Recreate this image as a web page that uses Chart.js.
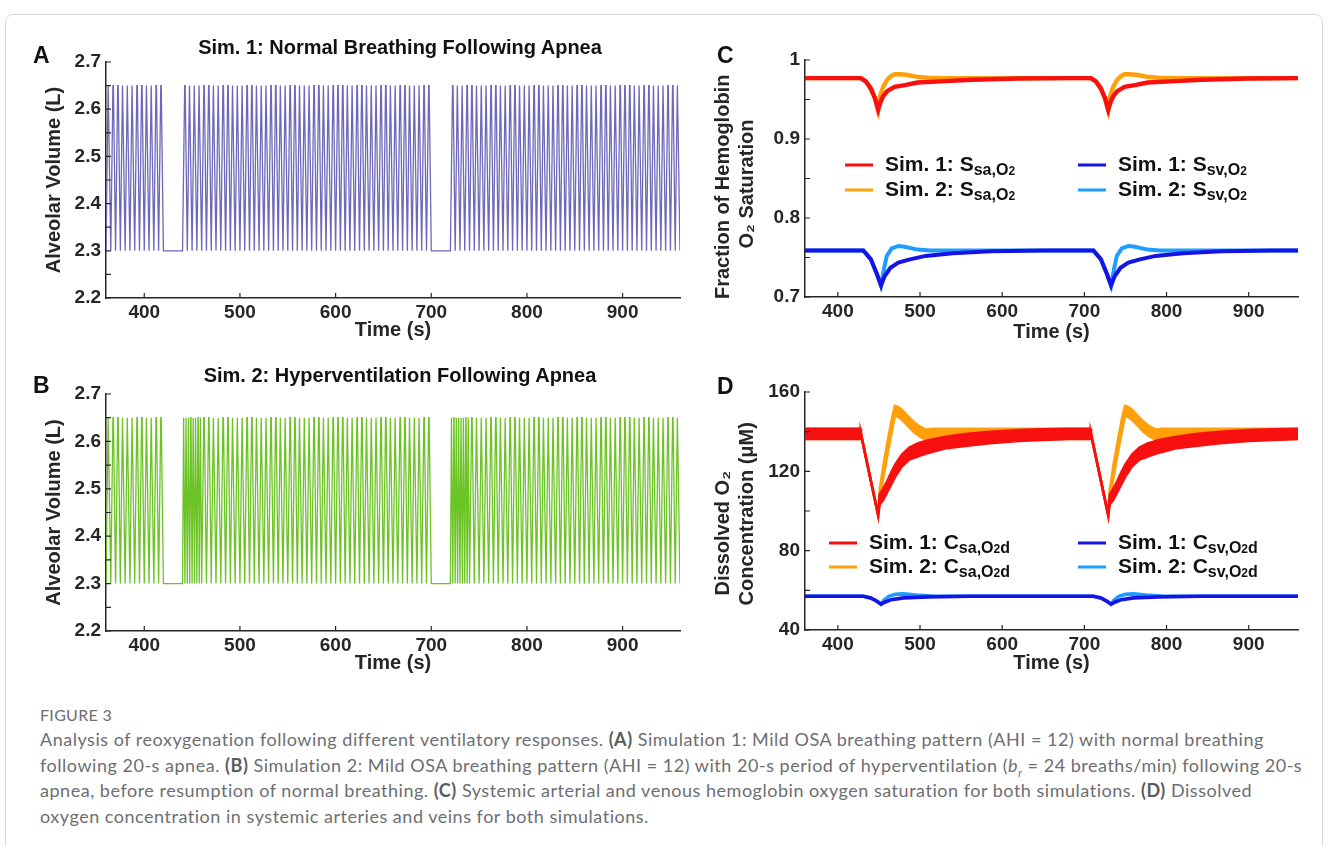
<!DOCTYPE html>
<html>
<head>
<meta charset="utf-8">
<script src="https://cdn.jsdelivr.net/npm/chart.js@4.4.1/dist/chart.umd.min.js"></script>
<style>
  body { margin: 0; background: #fff; }
  #page { position: relative; width: 1328px; height: 846px; overflow: hidden; background: #fff; }
  #card { position: absolute; left: 5px; top: 14px; width: 1316px; height: 900px; border: 1px solid #d8d8d8; border-radius: 8px; }
  canvas { position: absolute; }
  .title { position: absolute; left: 100px; width: 600px; text-align: center; color: #111;
           font: bold 20px/24px 'Liberation Sans', Arial, sans-serif; }
  .letter { position: absolute; color: #111; font: bold 23px/23px 'Liberation Sans', Arial, sans-serif; }
  .fig { position: absolute; left: 40px; top: 705px; color: #6d6e71; font: 16px/20px Lato, 'Open Sans', sans-serif; letter-spacing: 0.3px; }
  .caption { position: absolute; left: 40px; top: 727px; color: #6d6e71; white-space: nowrap;
             font: 18px/25.7px Lato, 'Open Sans', sans-serif; letter-spacing: 0.52px; }
  .caption b { color: #5a5b5e; }
  .caption sub { font-size: 11px; line-height: 0; }
</style>
</head>
<body>
<div id="page">
  <div id="card"></div>

  <canvas id="chartA" width="700" height="330" style="left:0;top:20px"></canvas>
  <canvas id="chartC" width="628" height="330" style="left:700px;top:20px"></canvas>
  <canvas id="chartB" width="700" height="330" style="left:0;top:350px"></canvas>
  <canvas id="chartD" width="628" height="330" style="left:700px;top:350px"></canvas>

  <div class="title" style="top:35px">Sim. 1: Normal Breathing Following Apnea</div>
  <div class="title" style="top:363px">Sim. 2: Hyperventilation Following Apnea</div>
  <div class="letter" style="left:33px;top:44px">A</div>
  <div class="letter" style="left:33px;top:374px">B</div>
  <div class="letter" style="left:717px;top:44px">C</div>
  <div class="letter" style="left:717px;top:375px">D</div>

  <div class="fig">FIGURE 3</div>
  <div class="caption">
    Analysis of reoxygenation following different ventilatory responses. <b>(A)</b> Simulation 1: Mild OSA breathing pattern (AHI = 12) with normal breathing<br>
    following 20-s apnea. <b>(B)</b> Simulation 2: Mild OSA breathing pattern (AHI = 12) with 20-s period of hyperventilation (<i>b<sub>r</sub></i> = 24 breaths/min) following 20-s<br>
    apnea, before resumption of normal breathing. <b>(C)</b> Systemic arterial and venous hemoglobin oxygen saturation for both simulations. <b>(D)</b> Dissolved<br>
    oxygen concentration in systemic arteries and veins for both simulations.
  </div>
</div>

<script>
const axisColor = '#262626';
const fontFamily = "'Liberation Sans', Arial, sans-serif";

// time axis shared by all panels
const timeMin = 360, timeMax = 960;
const timeTicks = [400, 500, 600, 700, 800, 900];
const apneaOnsets = [420, 700];

// alveolar volume (L)
const volTicks = [2.2, 2.25, 2.3, 2.35, 2.4, 2.45, 2.5, 2.55, 2.6, 2.65, 2.7];
const volLabels = ['2.2', '', '2.3', '', '2.4', '', '2.5', '', '2.6', '', '2.7'];
// one breath: fraction of the cycle and volume reached
const breathPhase = [0, 0.45, 0.55, 1];
const breathLevel = [2.3, 2.65, 2.65, 2.3];
// breathing segments: [start s, end s, breaths/min]
const sim1Segments = [[360, 420, 12], [440, 700, 12], [720, 960, 12]];
const sim2Segments = [[360, 420, 12], [440, 460, 24], [460, 700, 12], [720, 740, 24], [740, 960, 12]];

// hemoglobin O2 saturation, offsets in s after each apnea onset
const satTicks = [0.7, 0.75, 0.8, 0.85, 0.9, 0.95, 1.0];
const satLabels = ['0.7', '', '0.8', '', '0.9', '', '1'];
const ssaBase = 0.977, ssvBase = 0.759;
const ssa1T = [8, 14, 20, 25, 29, 32, 35, 40, 49, 63, 77, 105, 143, 200, 260];
const ssa1V = [0.977, 0.973, 0.964, 0.952, 0.937, 0.947, 0.954, 0.9605, 0.966, 0.9685, 0.9715, 0.973, 0.975, 0.9765, 0.977];
const ssa2T = [8, 14, 20, 25, 29, 31, 35, 40, 45, 49, 56, 65, 75, 90, 110];
const ssa2V = [0.977, 0.973, 0.964, 0.952, 0.937, 0.953, 0.966, 0.975, 0.980, 0.982, 0.982, 0.981, 0.979, 0.9775, 0.977];
const ssv1T = [11, 20, 27.5, 32.5, 37, 44, 53.6, 67.7, 86.8, 120, 167, 230];
const ssv1V = [0.759, 0.748, 0.729, 0.7145, 0.7266, 0.737, 0.7435, 0.7477, 0.752, 0.7553, 0.7578, 0.759];
const ssv2T = [11, 20, 27.5, 32.5, 36, 39.5, 45.5, 53.6, 61.5, 77, 92.6];
const ssv2V = [0.759, 0.748, 0.729, 0.7145, 0.735, 0.752, 0.7616, 0.7646, 0.7635, 0.760, 0.759];

// dissolved O2 (uM); arterial traces swing with each breath, kept as low/high envelopes
const concTicks = [40, 60, 80, 100, 120, 140, 160];
const concLabels = ['40', '', '80', '', '120', '', '160'];
const csaBaseLo = 136.3, csaBaseHi = 141.5, csvBase = 57;
const csa1T  = [7, 8, 29, 31, 35, 40, 45, 50, 58, 67, 77, 90, 110, 135, 165, 200, 230, 260];
const csa1Lo = [136.3, 139, 98, 103.5, 105.5, 109.5, 113.5, 117.5, 122.5, 126, 127.5, 129.3, 131.5, 132.8, 134.2, 135.3, 135.8, 136.3];
const csa1Hi = [141.5, 139, 98, 108.5, 111, 115, 119.5, 123.5, 128.5, 132, 134, 135.7, 137.3, 138.8, 139.9, 140.8, 141.2, 141.5];
const csa2T  = [7, 8, 29, 31, 36, 41, 46, 49.5, 53, 58, 65, 72, 80, 87, 95, 110];
const csa2Lo = [136.3, 139, 98, 106, 118.5, 130, 141, 148.4, 147.5, 146, 143, 140, 137.5, 136, 136, 136.3];
const csa2Hi = [141.5, 139, 98, 111, 124.5, 136, 147, 153, 152.5, 151, 148, 145, 142.5, 141, 141.5, 141.5];
const csv1T = [11, 20, 27.5, 32.5, 37, 45, 60, 90, 140];
const csv1V = [57, 56.2, 54.5, 53, 54, 55.3, 56.2, 56.7, 57];
const csv2T = [11, 20, 27.5, 32.5, 36, 42, 50, 60, 75, 95, 120];
const csv2V = [57, 56.2, 54.5, 53, 55, 57, 58, 58.2, 57.6, 57.1, 57];

const colors = { vol1: '#6e67ba', vol2: '#6cc326', sa1: '#f80f0f', sa2: '#ffa00a', sv1: '#1414e6', sv2: '#1c9dff' };

function breathTrace(segments) {
  const pts = [];
  segments.forEach(([start, end, rate]) => {
    const period = 60 / rate;
    for (let t = start; t < end - 1e-6; t += period) {
      breathPhase.forEach((p, k) => pts.push({ x: t + p * period, y: breathLevel[k] }));
    }
  });
  return pts;
}

function dipTrace(base, offsets, values) {
  const pts = [{ x: timeMin, y: base }];
  apneaOnsets.forEach(t0 => offsets.forEach((o, i) => pts.push({ x: t0 + o, y: values[i] })));
  pts.push({ x: timeMax, y: base });
  return pts;
}

const tickFont = { family: fontFamily, size: 19, weight: 'bold' };
const titleFont = { family: fontFamily, size: 20, weight: 'bold', lineHeight: 1.2 };

// MATLAB-style tick marks pointing into the plot
const inwardTicks = {
  id: 'inwardTicks',
  afterDraw(chart) {
    const { ctx, chartArea: a, scales: { x, y } } = chart;
    ctx.save();
    ctx.strokeStyle = axisColor;
    ctx.lineWidth = 1.2;
    ctx.beginPath();
    x.ticks.forEach(t => { const px = x.getPixelForValue(t.value); ctx.moveTo(px, a.bottom); ctx.lineTo(px, a.bottom - 5); });
    y.ticks.forEach(t => { const py = y.getPixelForValue(t.value); ctx.moveTo(a.left, py); ctx.lineTo(a.left + 5, py); });
    ctx.stroke();
    ctx.restore();
  }
};

// legend with subscripted symbols
const partStyle = { main: { size: 21, dy: 6 }, sub: { size: 16, dy: 10 }, sub2: { size: 12, dy: 10 } };
const subLegend = {
  id: 'subLegend',
  afterDraw(chart, args, opts) {
    if (!opts.items) return;
    const ctx = chart.ctx;
    ctx.save();
    opts.items.forEach(it => {
      ctx.strokeStyle = chart.data.datasets[it.ds].borderColor;
      ctx.lineWidth = 3;
      ctx.beginPath();
      ctx.moveTo(it.x, it.y);
      ctx.lineTo(it.x + 28, it.y);
      ctx.stroke();
      let tx = it.x + 40;
      ctx.fillStyle = '#111';
      it.parts.forEach(([txt, kind]) => {
        const st = partStyle[kind];
        ctx.font = 'bold ' + st.size + 'px ' + fontFamily;
        ctx.fillText(txt, tx, it.y + st.dy);
        tx += ctx.measureText(txt).width;
      });
    });
    ctx.restore();
  }
};

function makeChart(id, cfg) {
  return new Chart(id, {
    type: 'line',
    data: { datasets: cfg.datasets },
    options: {
      responsive: false,
      animation: false,
      devicePixelRatio: 1,
      layout: { padding: cfg.padding },
      elements: { point: { radius: 0 }, line: { tension: 0 } },
      plugins: {
        legend: { display: false },
        tooltip: { enabled: false },
        subLegend: { items: cfg.legend }
      },
      scales: {
        x: {
          type: 'linear', min: timeMin, max: timeMax,
          afterBuildTicks: s => { s.ticks = timeTicks.map(v => ({ value: v })); },
          afterFit: s => { s.height = cfg.xHeight; },
          grid: { display: false, drawTicks: false },
          border: { display: true, color: axisColor, width: 1.5 },
          ticks: { color: axisColor, font: tickFont, padding: 3, maxRotation: 0, autoSkip: false, callback: v => String(v) },
          title: { display: true, text: 'Time (s)', color: axisColor, font: titleFont, padding: { top: 0, bottom: cfg.xTitlePad } }
        },
        y: {
          type: 'linear', min: cfg.yTicks[0], max: cfg.yTicks[cfg.yTicks.length - 1],
          afterBuildTicks: s => { s.ticks = cfg.yTicks.map(v => ({ value: v })); },
          afterFit: s => { s.width = cfg.yWidth; },
          grid: { display: false, drawTicks: false },
          border: { display: true, color: axisColor, width: 1.5 },
          ticks: { color: axisColor, font: tickFont, padding: 5, autoSkip: false, callback: (v, i) => cfg.yLabels[i] },
          title: { display: true, text: cfg.yTitle, color: axisColor, font: titleFont, padding: { top: cfg.yTitlePad, bottom: 0 } }
        }
      }
    },
    plugins: [inwardTicks, subLegend]
  });
}

const volLine = color => ({ borderColor: color, borderWidth: 1.3 });

makeChart('chartA', {
  padding: { left: 0, right: 20, top: 42, bottom: 0 },
  yWidth: 106, xHeight: 52, xTitlePad: 8, yTitlePad: 42,
  yTicks: volTicks, yLabels: volLabels, yTitle: 'Alveolar Volume (L)',
  datasets: [{ data: breathTrace(sim1Segments), ...volLine(colors.vol1) }]
});

makeChart('chartB', {
  padding: { left: 0, right: 20, top: 44, bottom: 0 },
  yWidth: 106, xHeight: 49, xTitlePad: 5, yTitlePad: 42,
  yTicks: volTicks, yLabels: volLabels, yTitle: 'Alveolar Volume (L)',
  datasets: [{ data: breathTrace(sim2Segments), ...volLine(colors.vol2) }]
});

// trailing spaces nudge the rotated title lines down, below the panel letter
makeChart('chartC', {
  padding: { left: 0, right: 30, top: 40, bottom: 0 },
  yWidth: 105, xHeight: 53, xTitlePad: 6, yTitlePad: 11,
  yTicks: satTicks, yLabels: satLabels, yTitle: ['Fraction of Hemoglobin   ', 'O\u2082 Saturation  '],
  datasets: [
    { data: dipTrace(ssaBase, ssa1T, ssa1V), borderColor: colors.sa1, borderWidth: 4.4 },
    { data: dipTrace(ssaBase, ssa2T, ssa2V), borderColor: colors.sa2, borderWidth: 4.4 },
    { data: dipTrace(ssvBase, ssv1T, ssv1V), borderColor: colors.sv1, borderWidth: 4 },
    { data: dipTrace(ssvBase, ssv2T, ssv2V), borderColor: colors.sv2, borderWidth: 4 }
  ],
  legend: [
    { ds: 0, x: 145, y: 145, parts: [['Sim. 1: S', 'main'], ['sa,O', 'sub'], ['2', 'sub2']] },
    { ds: 1, x: 145, y: 170, parts: [['Sim. 2: S', 'main'], ['sa,O', 'sub'], ['2', 'sub2']] },
    { ds: 2, x: 378, y: 145, parts: [['Sim. 1: S', 'main'], ['sv,O', 'sub'], ['2', 'sub2']] },
    { ds: 3, x: 378, y: 170, parts: [['Sim. 2: S', 'main'], ['sv,O', 'sub'], ['2', 'sub2']] }
  ]
});

const band = (color, data, fill) => ({
  data, borderColor: color, borderWidth: 2.6, fill: fill === undefined ? false : fill,
  backgroundColor: color
});

makeChart('chartD', {
  padding: { left: 0, right: 30, top: 42, bottom: 0 },
  yWidth: 105, xHeight: 50, xTitlePad: 5, yTitlePad: 11,
  yTicks: concTicks, yLabels: concLabels, yTitle: ['Dissolved O\u2082        ', 'Concentration (\u03bcM) '],
  datasets: [
    { data: dipTrace(csvBase, csv1T, csv1V), borderColor: colors.sv1, borderWidth: 3.6 },
    { data: dipTrace(csvBase, csv2T, csv2V), borderColor: colors.sv2, borderWidth: 3.6 },
    band(colors.sa1, dipTrace(csaBaseHi, csa1T, csa1Hi), 3),
    band(colors.sa1, dipTrace(csaBaseLo, csa1T, csa1Lo)),
    band(colors.sa2, dipTrace(csaBaseHi, csa2T, csa2Hi), 5),
    band(colors.sa2, dipTrace(csaBaseLo, csa2T, csa2Lo))
  ],
  legend: [
    { ds: 3, x: 129, y: 193, parts: [['Sim. 1: C', 'main'], ['sa,O', 'sub'], ['2', 'sub2'], ['d', 'sub']] },
    { ds: 5, x: 129, y: 217, parts: [['Sim. 2: C', 'main'], ['sa,O', 'sub'], ['2', 'sub2'], ['d', 'sub']] },
    { ds: 0, x: 378, y: 193, parts: [['Sim. 1: C', 'main'], ['sv,O', 'sub'], ['2', 'sub2'], ['d', 'sub']] },
    { ds: 1, x: 378, y: 217, parts: [['Sim. 2: C', 'main'], ['sv,O', 'sub'], ['2', 'sub2'], ['d', 'sub']] }
  ]
});
</script>
</body>
</html>
